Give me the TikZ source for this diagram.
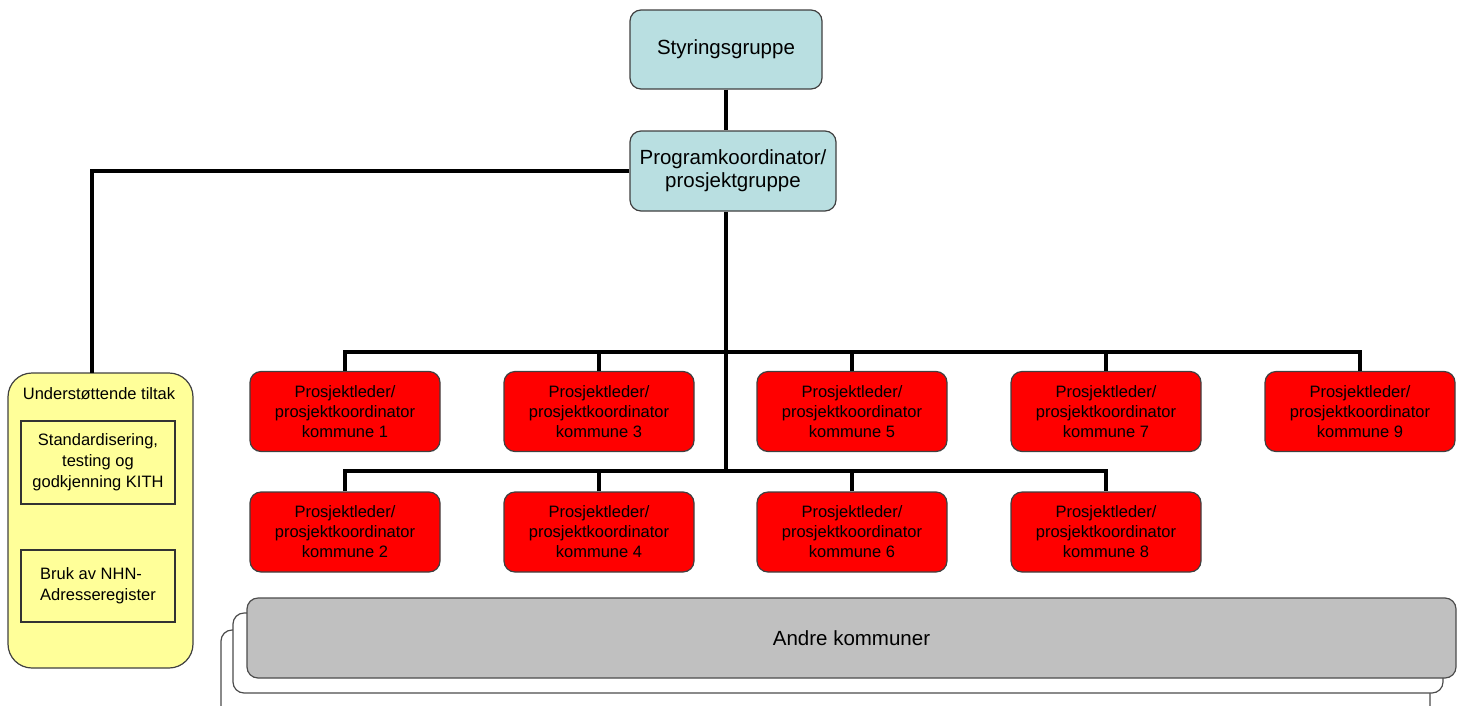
\documentclass[tikz,border=0pt]{standalone}
\usepackage{fontspec}
\setmainfont{Liberation Sans}
\begin{document}
\begin{tikzpicture}[x=1pt,y=-1pt,
  conn/.style={line width=3.5pt,black},
  bluebox/.style={draw=black!75,line width=1.2pt,fill=cyanbox,rounded corners=11pt,minimum width=192pt,minimum height=79pt,align=center,font=\fontsize{20.5}{23}\selectfont},
  redbox/.style={draw=black!75,line width=1.2pt,fill=red,rounded corners=11pt,minimum width=190pt,minimum height=80pt,align=center,font=\fontsize{16.5}{20}\selectfont},
  innerbox/.style={draw=black!80,line width=1.2pt,fill=yellowbox,minimum width=154pt,font=\fontsize{16.5}{21}\selectfont},
  stackbox/.style={draw=black!70,line width=1.2pt,fill=white,rounded corners=11pt}
]
\definecolor{cyanbox}{HTML}{B9DFE1}
\definecolor{yellowbox}{HTML}{FFFF99}
\definecolor{graybox}{HTML}{C0C0C0}
\useasboundingbox (0,0) rectangle (1462,705);

% stacked boxes behind
\path[stackbox] (221,630) rectangle (1430,730);
\path[stackbox] (233,613) rectangle (1443,693);
\node[draw=black!70,line width=1.2pt,fill=graybox,rounded corners=11pt,minimum width=1209pt,minimum height=80pt,font=\fontsize{20.5}{23}\selectfont] (andre) at (851.5,638) {Andre kommuner};

% top boxes
\node[bluebox] (sg) at (726,49.5) {Styringsgruppe};
\node[bluebox,minimum width=206pt,minimum height=80pt] (pk) at (733,171) {Programkoordinator/\\prosjektgruppe};

% yellow box
\node[draw=black!75,line width=1.2pt,fill=yellowbox,rounded corners=24pt,minimum width=185pt,minimum height=295pt] (u) at (100.5,520.5) {};
\node[font=\fontsize{16.5}{20}\selectfont] (ut) at (99,394) {Understøttende tiltak};
\node[innerbox,minimum height=83pt,align=center] (i1) at (98,462.5) {Standardisering,\\testing og\\godkjenning KITH};
\node[innerbox,minimum height=72pt,align=left] (i2) at (98,586) {Bruk av NHN-\\Adresseregister};

% red boxes
\node[redbox] (r1) at (345,411.5) {Prosjektleder/\\prosjektkoordinator\\kommune 1};
\node[redbox] (r3) at (599,411.5) {Prosjektleder/\\prosjektkoordinator\\kommune 3};
\node[redbox] (r5) at (852,411.5) {Prosjektleder/\\prosjektkoordinator\\kommune 5};
\node[redbox] (r7) at (1106,411.5) {Prosjektleder/\\prosjektkoordinator\\kommune 7};
\node[redbox] (r9) at (1360,411.5) {Prosjektleder/\\prosjektkoordinator\\kommune 9};
\node[redbox] (r2) at (345,532) {Prosjektleder/\\prosjektkoordinator\\kommune 2};
\node[redbox] (r4) at (599,532) {Prosjektleder/\\prosjektkoordinator\\kommune 4};
\node[redbox] (r6) at (852,532) {Prosjektleder/\\prosjektkoordinator\\kommune 6};
\node[redbox] (r8) at (1106,532) {Prosjektleder/\\prosjektkoordinator\\kommune 8};

% connectors
\coordinate (busA) at (726,352);
\coordinate (busB) at (726,471);
\coordinate (uTop) at (92,373);
\draw[conn] (sg.south) -- (pk.north -| sg.south);
\draw[conn] (pk.west) -| (uTop);
\draw[conn] (pk.south -| busB) -- (busB);
\draw[conn] (r1.north) -- (r1.north |- busA) -- (r9.north |- busA) -- (r9.north);
\foreach \n in {r3,r5,r7} \draw[conn] (\n.north) -- (\n.north |- busA);
\draw[conn] (r2.north) -- (r2.north |- busB) -- (r8.north |- busB) -- (r8.north);
\foreach \n in {r4,r6} \draw[conn] (\n.north) -- (\n.north |- busB);
\end{tikzpicture}
\end{document}
